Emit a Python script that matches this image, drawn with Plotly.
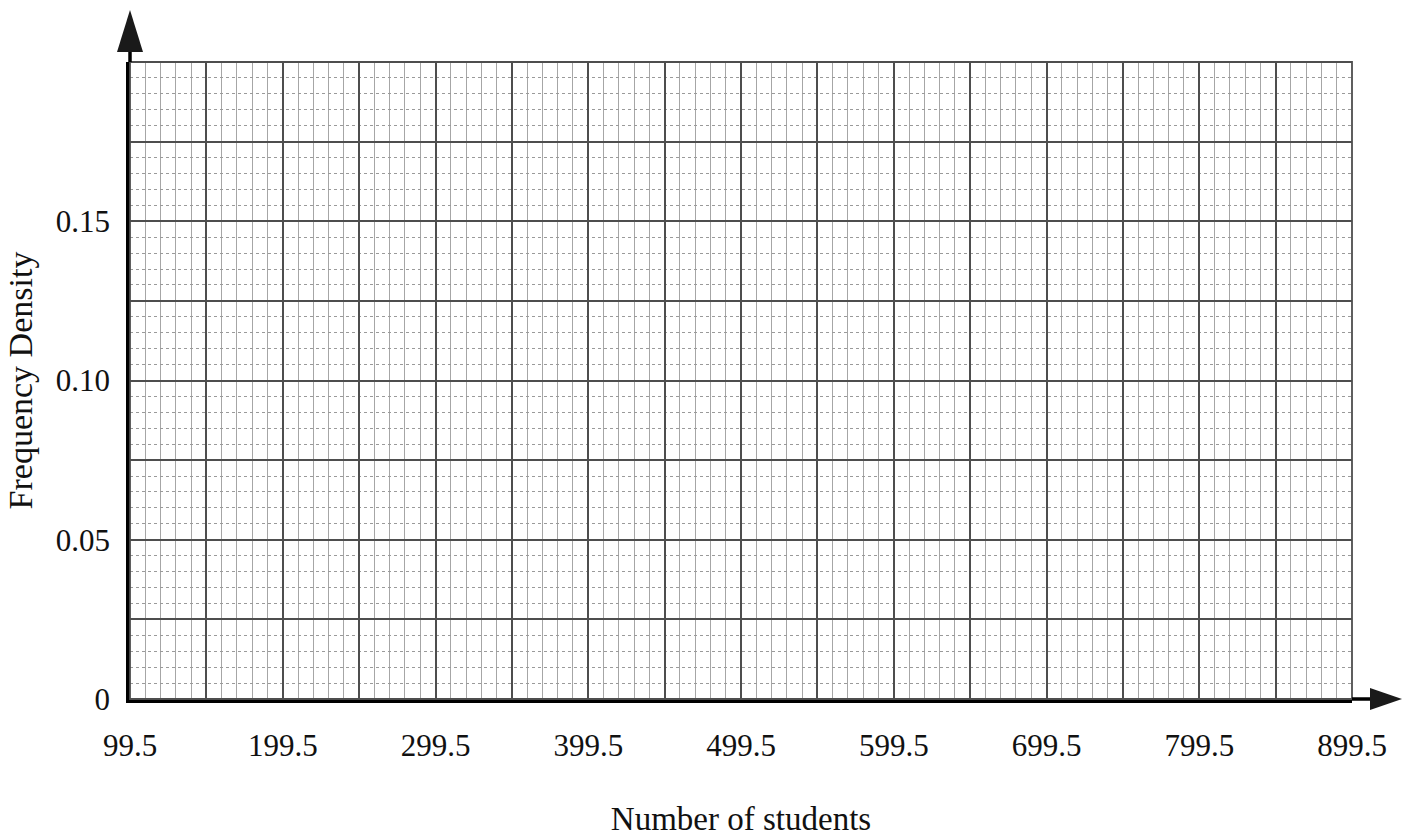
import plotly.graph_objects as go

# Axis values
x_ticks = [99.5 + 50 * i for i in range(17)]
x_labels = ["99.5", "", "199.5", "", "299.5", "", "399.5", "", "499.5", "",
            "599.5", "", "699.5", "", "799.5", "", "899.5"]
y_ticks = [0, 0.025, 0.05, 0.075, 0.10, 0.125, 0.15, 0.175, 0.20]
y_labels = ["0", "", "0.05", "", "0.10", "", "0.15", "", ""]
x_title = "Number of students"
y_title = "Frequency Density"

FONT = "Liberation Serif"
MAJOR = "#4e4e4e"
MINOR_V = "#a6a6a6"
MINOR_H = "#9a9a9a"

fig = go.Figure()
fig.add_trace(go.Scatter(x=[], y=[], mode="markers", showlegend=False))

fig.update_layout(
    width=1408, height=837,
    margin=dict(l=130, r=56, t=62, b=138),
    paper_bgcolor="white", plot_bgcolor="white",
    font=dict(family=FONT, color="#111111", size=31),
    showlegend=False,
)

fig.update_xaxes(
    range=[x_ticks[0], x_ticks[-1]],
    tickvals=x_ticks, ticktext=x_labels,
    showgrid=True, gridcolor=MAJOR, gridwidth=1.8,
    minor=dict(tick0=99.5, dtick=10, showgrid=True, gridcolor=MINOR_V,
               gridwidth=1),
    showline=True, linecolor="black", linewidth=3.5,
    zeroline=False, ticks="", ticklabelstandoff=16,
    tickfont=dict(family=FONT, size=31),
    title=dict(text=x_title, font=dict(family=FONT, size=33), standoff=48),
    automargin=False,
    fixedrange=True,
)
fig.update_yaxes(
    range=[y_ticks[0], y_ticks[-1]],
    tickvals=y_ticks, ticktext=y_labels,
    showgrid=True, gridcolor=MAJOR, gridwidth=1.8,
    minor=dict(tick0=0, dtick=0.005, showgrid=True, gridcolor=MINOR_H,
               gridwidth=1, griddash="dot"),
    showline=True, linecolor="black", linewidth=3.5,
    zeroline=False, ticks="", ticklabelstandoff=10,
    tickfont=dict(family=FONT, size=31),
    title=dict(text=y_title, font=dict(family=FONT, size=34), standoff=14),
    automargin=False,
    fixedrange=True,
)

# outer border (top / right) in major grid colour
fig.add_shape(type="rect", xref="x domain", yref="y domain", x0=0, x1=1, y0=0, y1=1,
              line=dict(color=MAJOR, width=1.8), layer="above")

# y-axis arrow (extension + head), anchored at top-left corner of the plot
fig.add_shape(type="path", xref="paper", yref="paper", xsizemode="pixel", ysizemode="pixel",
              xanchor=0, yanchor=1,
              path="M -1.75,0 L -1.75,12 L 1.75,12 L 1.75,0 Z",
              fillcolor="black", line=dict(width=0), layer="above")
fig.add_shape(type="path", xref="paper", yref="paper", xsizemode="pixel", ysizemode="pixel",
              xanchor=0, yanchor=1,
              path="M -13,10 L 0,52 L 13,10 Z",
              fillcolor="#1a1a1a", line=dict(width=0), layer="above")
# x-axis arrow (extension + head), anchored at bottom-right corner of the plot
fig.add_shape(type="path", xref="paper", yref="paper", xsizemode="pixel", ysizemode="pixel",
              xanchor=1, yanchor=0,
              path="M 0,-1.75 L 20,-1.75 L 20,1.75 L 0,1.75 Z",
              fillcolor="black", line=dict(width=0), layer="above")
fig.add_shape(type="path", xref="paper", yref="paper", xsizemode="pixel", ysizemode="pixel",
              xanchor=1, yanchor=0,
              path="M 18,-11 L 50,0 L 18,11 Z",
              fillcolor="#1a1a1a", line=dict(width=0), layer="above")

fig.write_html("out.html", config={"displayModeBar": False},
               post_script="document.body.style.margin='0';")
